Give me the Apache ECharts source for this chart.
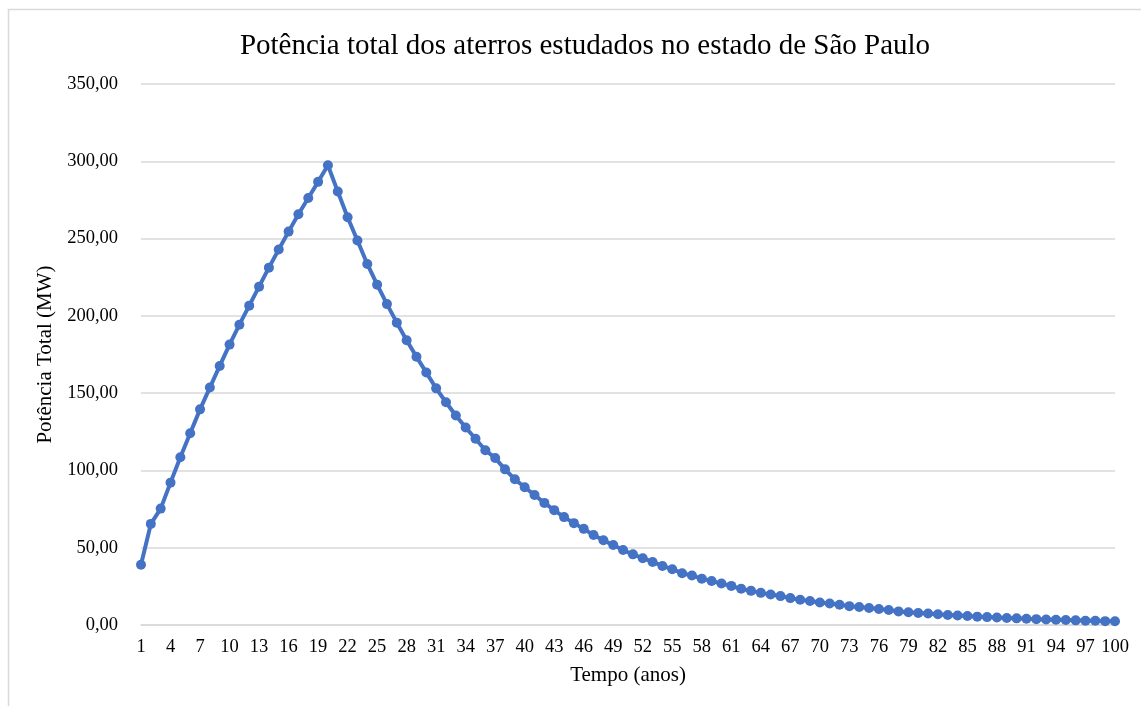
<!DOCTYPE html>
<html>
<head>
<meta charset="utf-8">
<title>Potência total dos aterros</title>
<script src="https://cdn.jsdelivr.net/npm/echarts@6/dist/echarts.min.js"></script>
<style>
  html, body { margin: 0; padding: 0; background: #fff; }
  #chart { width: 1141px; height: 706px; }
</style>
</head>
<body>
<div id="chart"></div>
<script>
// anos 1..100
const anos = []
for (let i = 1; i <= 100; i++) anos.push(String(i))

// potência total (MW)
const potencia = [
  39.0, 65.4, 75.3, 92.1, 108.5, 124.0, 139.5, 153.6, 167.6, 181.4,
  194.3, 206.6, 218.9, 231.2, 242.9, 254.5, 265.7, 276.3, 286.7, 297.4,
  280.4, 263.8, 248.7, 233.6, 220.2, 207.6, 195.6, 184.2, 173.5, 163.4,
  153.1, 144.1, 135.5, 127.8, 120.5, 113.1, 108.0, 100.7, 94.3, 89.1,
  84.1, 79.0, 74.3, 69.8, 65.9, 62.2, 58.2, 54.8, 51.7, 48.5,
  45.7, 43.2, 40.8, 38.2, 36.1, 33.5, 32.0, 30.0, 28.5, 26.8,
  25.3, 23.4, 22.1, 20.8, 19.7, 18.7, 17.4, 16.3, 15.5, 14.6,
  13.9, 13.1, 12.2, 11.6, 11.0, 10.3, 9.7, 8.8, 8.3, 7.8,
  7.4, 6.9, 6.5, 6.1, 5.8, 5.4, 5.1, 4.8, 4.5, 4.3,
  4.0, 3.8, 3.6, 3.4, 3.2, 3.0, 2.8, 2.7, 2.5, 2.4
]

const yMin = 0
const yMax = 350
const yStep = 50

const serif = 'Liberation Serif, Times New Roman, serif'

const chart = echarts.init(document.getElementById('chart'))
chart.setOption({
  animation: false,
  textStyle: { fontFamily: serif },
  title: {
    text: 'Potência total dos aterros estudados no estado de São Paulo',
    left: 580,
    textAlign: 'center',
    top: 27,
    textStyle: {
      fontFamily: serif,
      fontSize: 29,
      fontWeight: 'normal',
      color: '#000'
    }
  },
  graphic: [
    {
      type: 'rect',
      shape: { x: 8.5, y: 9.5, width: 1200, height: 800 },
      style: { fill: 'none', stroke: '#d9d9d9', lineWidth: 1.5 },
      silent: true
    }
  ],
  grid: {
    left: 141,
    right: 26,
    top: 84,
    bottom: 81
  },
  xAxis: {
    type: 'category',
    data: anos,
    boundaryGap: false,
    name: 'Tempo (anos)',
    nameLocation: 'middle',
    nameGap: 40,
    nameTextStyle: { fontFamily: serif, fontSize: 21, color: '#000' },
    axisLine: { lineStyle: { color: '#d9d9d9', width: 1.5 } },
    axisTick: { show: false },
    axisLabel: {
      interval: 2,
      margin: 13,
      fontFamily: serif,
      fontSize: 18.5,
      color: '#000'
    },
    splitLine: { show: false }
  },
  yAxis: {
    type: 'value',
    min: yMin,
    max: yMax,
    interval: yStep,
    name: 'Potência Total (MW)',
    nameLocation: 'middle',
    nameGap: 83,
    nameTextStyle: { fontFamily: serif, fontSize: 21, color: '#000' },
    axisLine: { show: false },
    axisTick: { show: false },
    axisLabel: {
      margin: 23,
      fontFamily: serif,
      fontSize: 18.5,
      color: '#000',
      formatter: v => v.toFixed(2).replace('.', ',')
    },
    splitLine: { lineStyle: { color: '#d9d9d9', width: 1.5 } }
  },
  series: [
    {
      type: 'line',
      data: potencia,
      symbol: 'circle',
      symbolSize: 10,
      showAllSymbol: true,
      itemStyle: { color: '#4472c4' },
      lineStyle: { color: '#4472c4', width: 4 }
    }
  ]
})
</script>
</body>
</html>
